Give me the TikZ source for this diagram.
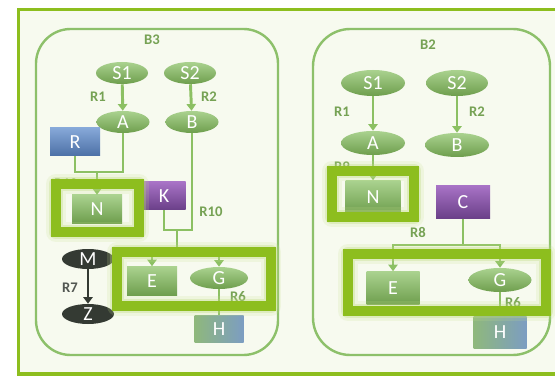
\documentclass[tikz,border=0pt]{standalone}
\usepackage{fontspec}
\setmainfont{Carlito}
\usetikzlibrary{shapes.geometric,arrows.meta}

\definecolor{frameGreen}{HTML}{8DBE1E}
\definecolor{paperGreen}{HTML}{F7FAEF}
\definecolor{panelGreen}{HTML}{8DC06A}
\definecolor{lineGreen}{HTML}{8CC063}
\definecolor{labelGreen}{HTML}{76A254}
\definecolor{nodeTop}{HTML}{AAD28F}
\definecolor{nodeBot}{HTML}{6E9E4D}
\definecolor{blueTop}{HTML}{86A8D8}
\definecolor{blueBot}{HTML}{4C70A6}
\definecolor{purpTop}{HTML}{A873C6}
\definecolor{purpBot}{HTML}{6A3F88}
\definecolor{darkNode}{HTML}{343A33}
\definecolor{hLeft}{HTML}{8FB87C}
\definecolor{hRight}{HTML}{7C9DC2}

\tikzset{
  grnell/.style={ellipse, top color=nodeTop, bottom color=nodeBot, draw=none,
    text=white, font=\fontsize{15}{15}\selectfont, inner sep=0pt},
  grnbox/.style={rectangle, top color=nodeTop, bottom color=nodeBot, draw=none,
    text=white, font=\fontsize{15}{15}\selectfont, inner sep=0pt},
  bluebox/.style={grnbox, top color=blueTop, bottom color=blueBot},
  purpbox/.style={grnbox, top color=purpTop, bottom color=purpBot},
  hbox/.style={grnbox, left color=hLeft, right color=hRight},
  darkell/.style={ellipse, fill=darkNode, text=white,
    font=\fontsize{15}{15}\selectfont, inner sep=0pt},
  conn/.style={draw=lineGreen, line width=2.2pt},
  tip/.style={-{Triangle[width=7pt,length=5pt]}},
  rlabel/.style={font=\bfseries\fontsize{11}{11}\selectfont, text=labelGreen},
  glowa/.style={draw=frameGreen!50, line width=15pt, opacity=0.18, line join=round},
  glowb/.style={draw=frameGreen!60, line width=11pt, opacity=0.3, line join=round},
  hilite/.style={draw=frameGreen, line width=7pt},
}

\begin{document}
\begin{tikzpicture}[x=0.75pt, y=-0.75pt]

    % Picture size (pixels of the reference)
    \useasboundingbox (0,0) rectangle (555,377);

    % =========================================================================
    % Outer frame and the two panels
    % =========================================================================
    \fill[white] (0,0) rectangle (555,377);
    \draw[frameGreen, line width=2.4pt, fill=paperGreen] (18.5,9.5) rectangle (565,374);

    \draw[panelGreen, line width=1.8pt, rounded corners=26pt] (36,29) rectangle (278,355);
    \draw[panelGreen, line width=1.8pt, rounded corners=28pt] (313,29) rectangle (550,355);

    \node[rlabel] (b3) at (152,40) {B3};
    \node[rlabel] (b2) at (428,45) {B2};

    % =========================================================================
    % Panel B3
    % =========================================================================
    \node[grnell, minimum width=52*0.75pt, minimum height=22*0.75pt] (s1L) at (122,73) {S1};
    \node[grnell, minimum width=52*0.75pt, minimum height=22*0.75pt] (s2L) at (190,73) {S2};
    \node[grnell, minimum width=53*0.75pt, minimum height=22*0.75pt] (aL) at (123,122) {A};
    \node[grnell, minimum width=53*0.75pt, minimum height=22*0.75pt] (bL) at (192,122) {B};
    \node[bluebox, minimum width=50*0.75pt, minimum height=28*0.75pt] (rL) at (75,142) {R};
    \node[grnbox, minimum width=50*0.75pt, minimum height=28*0.75pt] (nL) at (97,209) {N};
    \node[purpbox, minimum width=43*0.75pt, minimum height=28*0.75pt] (kL) at (164,196) {K};
    \node[grnbox, minimum width=50*0.75pt, minimum height=29*0.75pt] (eL) at (152,281) {E};
    \node[grnell, minimum width=58*0.75pt, minimum height=22*0.75pt] (gL) at (219,278) {G};
    \node[darkell, minimum width=52*0.75pt, minimum height=20*0.75pt] (mL) at (88,259) {M};
    \node[darkell, minimum width=52*0.75pt, minimum height=20*0.75pt] (zL) at (88,314) {Z};
    \node[hbox, minimum width=49*0.75pt, minimum height=27*0.75pt] (hL) at (219,329) {H};

    % Connectors
    \draw[conn, tip] (s1L) -- (aL);
    \draw[conn, tip] (s2L) -- (bL);

    \coordinate (jN) at (97,172);
    \draw[conn] (aL.south) |- (jN) -| (rL.south);
    \draw[conn, tip] (jN) -- (nL.north);

    \coordinate (jK) at (177,230);
    \coordinate (sK) at (177,251);
    \draw[conn] (kL.south) |- (jK) -| (bL.south);
    \draw[conn] (jK) -- (sK);
    \draw[conn, tip] (sK) -| (eL.north);
    \draw[conn, tip] (sK) -| (gL.north);

    \draw[darkNode, line width=2pt, tip] (mL) -- (zL);
    \draw[conn] (gL.south) -- (hL.north);

    % Reaction labels
    \node[rlabel] (r12L) at (66,184) {R10};
    \node[rlabel] (r1L) at (98,97) {R1};
    \node[rlabel] (r2L) at (209,97) {R2};
    \node[rlabel] (r10L) at (211,212) {R10};
    \node[rlabel, text=darkNode!85] (r7L) at (70,288) {R7};
    \node[rlabel] (r6L) at (238,297) {R6};

    % Highlights
    \draw[glowa] (56,184) rectangle (139,232);
    \draw[glowb] (56,184) rectangle (139,232);
    \draw[hilite] (56,184) rectangle (139,232);
    \draw[glowa] (117,252) rectangle (271,306);
    \draw[glowb] (117,252) rectangle (271,306);
    \draw[hilite, line width=7.5pt] (117,252) rectangle (271,306);

    % =========================================================================
    % Panel B2
    % =========================================================================
    \node[grnell, minimum width=64*0.75pt, minimum height=26*0.75pt] (s1R) at (373,83) {S1};
    \node[grnell, minimum width=62*0.75pt, minimum height=26*0.75pt] (s2R) at (457,83) {S2};
    \node[grnell, minimum width=64*0.75pt, minimum height=24*0.75pt] (aR) at (373,143) {A};
    \node[grnell, minimum width=64*0.75pt, minimum height=24*0.75pt] (bR) at (457,145) {B};
    \node[grnbox, minimum width=55*0.75pt, minimum height=33*0.75pt] (nR) at (373,197) {N};
    \node[purpbox, minimum width=54*0.75pt, minimum height=33*0.75pt] (cR) at (463,202) {C};
    \node[grnbox, minimum width=53*0.75pt, minimum height=33*0.75pt] (eR) at (393,288) {E};
    \node[grnell, minimum width=63*0.75pt, minimum height=24*0.75pt] (gR) at (500,280) {G};
    \node[hbox, minimum width=53*0.75pt, minimum height=32*0.75pt] (hR) at (500,332) {H};

    % Connectors
    \draw[conn, tip] (s1R) -- (aR);
    \draw[conn, tip] (s2R) -- (bR);
    \draw[conn, tip] (aR) -- (nR);

    \coordinate (jC) at (463,245);
    \draw[conn] (cR.south) -- (jC);
    \draw[conn, tip] (jC) -| (eR.north);
    \draw[conn, tip] (jC) -| (gR.north);
    \draw[conn] (gR.south) -- (hR.north);

    % Reaction labels
    \node[rlabel] (r1R) at (342,112) {R1};
    \node[rlabel] (r2R) at (477,112) {R2};
    \node[rlabel] (r9R) at (342,167) {R9};
    \node[rlabel] (r8R) at (418,232) {R8};
    \node[rlabel] (r6R) at (513,303) {R6};

    % Highlights
    \draw[glowa] (332,171) rectangle (414,217);
    \draw[glowb] (332,171) rectangle (414,217);
    \draw[hilite, line width=7.5pt] (332,171) rectangle (414,217);
    \draw[glowa] (348,254) rectangle (546,311);
    \draw[glowb] (348,254) rectangle (546,311);
    \draw[hilite, line width=7.5pt] (348,254) rectangle (546,311);

\end{tikzpicture}
\end{document}
